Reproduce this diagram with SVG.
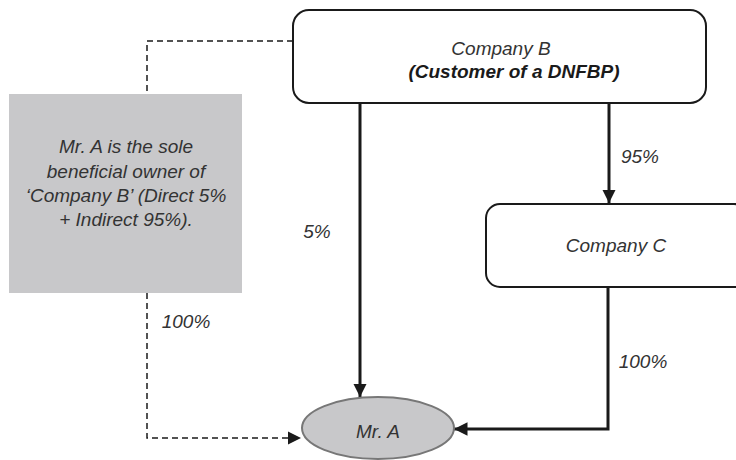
<svg xmlns="http://www.w3.org/2000/svg" width="736" height="460" viewBox="0 0 736 460">
<style>
text{font-family:"Liberation Sans",Arial,sans-serif;font-style:italic;font-size:19px;fill:#333;font-weight:normal;text-anchor:middle}
.b{font-weight:bold;fill:#1a1a1a}
.box{fill:#fff;stroke:#1a1a1a;stroke-width:2}
.solid{fill:none;stroke:#1a1a1a;stroke-width:3}
.dash{fill:none;stroke:#1a1a1a;stroke-width:1.5;stroke-dasharray:6 4}
</style>
<defs>
<marker id="ah" viewBox="0 0 10 10" refX="10" refY="5" markerWidth="4.5" markerHeight="4.5" orient="auto" markerUnits="strokeWidth"><path d="M0,0L10,5L0,10z" fill="#1a1a1a"/></marker>
<marker id="ahd" viewBox="0 0 10 10" refX="10" refY="5" markerWidth="9" markerHeight="9" orient="auto" markerUnits="strokeWidth"><path d="M0,0L10,5L0,10z" fill="#1a1a1a"/></marker>
</defs>
<g id="connectors">
<path class="dash" d="M293,41H147V94"/>
<path class="dash" d="M147,293V438H301" marker-end="url(#ahd)"/>
<path class="solid" d="M360,103V397" marker-end="url(#ah)"/>
<path class="solid" d="M609,103V203" marker-end="url(#ah)"/>
<path class="solid" d="M608,287V429H454" marker-end="url(#ah)"/>
</g>
<g id="labels">
<text x="317" y="238">5%</text>
<text x="640" y="163">95%</text>
<text x="643" y="368">100%</text>
<text x="186" y="328">100%</text>
</g>
<g id="company-b">
<rect class="box" x="293" y="10" width="413" height="93" rx="16"/>
<text x="501" y="55">Company B</text>
<text class="b" x="514" y="78">(Customer of a DNFBP)</text>
</g>
<g id="note">
<rect x="9" y="94" width="233" height="199" fill="#c8c8ca"/>
<text x="126" y="153">Mr. A is the sole</text>
<text x="126" y="178">beneficial owner of</text>
<text x="126" y="202">‘Company B’ (Direct 5%</text>
<text x="126" y="226">+ Indirect 95%).</text>
</g>
<g id="company-c">
<rect class="box" x="486" y="204" width="262" height="83" rx="14"/>
<text x="616" y="252">Company C</text>
</g>
<g id="mr-a">
<ellipse cx="378" cy="428" rx="76" ry="31" fill="#c8c8ca" stroke="#777" stroke-width="2"/>
<text x="378" y="438">Mr. A</text>
</g>
</svg>
